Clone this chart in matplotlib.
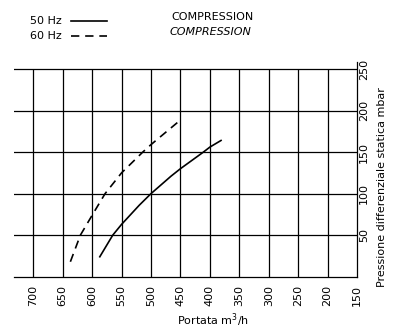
import matplotlib
matplotlib.use("Agg")
import matplotlib.pyplot as plt

plt.rcParams["font.family"] = ["Liberation Sans Narrow", "DejaVu Sans"]

# Flow rate (m3/h) vs static pressure difference (mbar), compression
flow_50hz = [587, 565, 550, 520, 500, 466, 450, 411, 400, 381]
pres_50hz = [24, 50, 63, 86, 100, 121, 130, 150, 156, 164]

flow_60hz = [637, 620, 600, 578, 550, 514, 500, 473, 451]
pres_60hz = [18, 50, 74, 100, 125, 150, 159, 175, 188]

x_ticks = [700, 650, 600, 550, 500, 450, 400, 350, 300, 250, 200, 150]
y_ticks = [50, 100, 150, 200, 250]

fig = plt.figure(figsize=(3.95, 3.28), dpi=100)
ax = fig.add_axes([0.0354, 0.1564, 0.8684, 0.6555])

# grid drawn by hand: full-width horizontals, verticals up to 250
for y in y_ticks:
    ax.axhline(y, color="black", lw=0.9)
ax.vlines(x_ticks[:-1], 0, 250, color="black", lw=0.9)

ax.plot(flow_50hz, pres_50hz, color="black", lw=1.2, ls="-")
ax.plot(flow_60hz, pres_60hz, color="black", lw=1.2, ls=(0, (5, 3.5)))

ax.set_xlim(732.8, 150)
ax.set_ylim(0, 258.8)

for side in ["left", "top"]:
    ax.spines[side].set_visible(False)
ax.spines["right"].set_linewidth(0.9)
ax.spines["bottom"].set_linewidth(0.9)

ax.set_xticks(x_ticks)
ax.set_xticklabels([str(v) for v in x_ticks], rotation=90, fontsize=8)
ax.yaxis.tick_right()
ax.set_yticks(y_ticks)
ax.set_yticklabels([str(v) for v in y_ticks], rotation=90, fontsize=8,
                   va="center", ha="left")
ax.tick_params(axis="x", length=0, pad=6)
ax.tick_params(axis="y", length=0, pad=1.5)

fig.text(213 / 395, 1 - 320 / 328, "Portata m$^3$/h", ha="center", va="center",
         fontsize=8)
fig.text(382 / 395, 1 - 187 / 328, "Pressione differenziale statica mbar",
         rotation=90, ha="center", va="center", fontsize=8)

# legend
fig.text(30 / 395, 1 - 21 / 328, "50 Hz", ha="left", va="center", fontsize=8)
fig.text(30 / 395, 1 - 36 / 328, "60 Hz", ha="left", va="center", fontsize=8)
fig.add_artist(plt.Line2D([71 / 395, 107 / 395], [1 - 21 / 328, 1 - 21 / 328],
                          color="black", lw=1.2))
fig.add_artist(plt.Line2D([71 / 395, 107 / 395], [1 - 36 / 328, 1 - 36 / 328],
                          color="black", lw=1.2, ls=(0, (5, 3.5))))
fig.text(171 / 395, 1 - 17 / 328, "COMPRESSION", ha="left", va="center",
         fontsize=8)
fig.text(170 / 395, 1 - 32 / 328, "COMPRESSION", ha="left", va="center",
         fontsize=8, style="italic")

fig.savefig("out.png", dpi=100)
